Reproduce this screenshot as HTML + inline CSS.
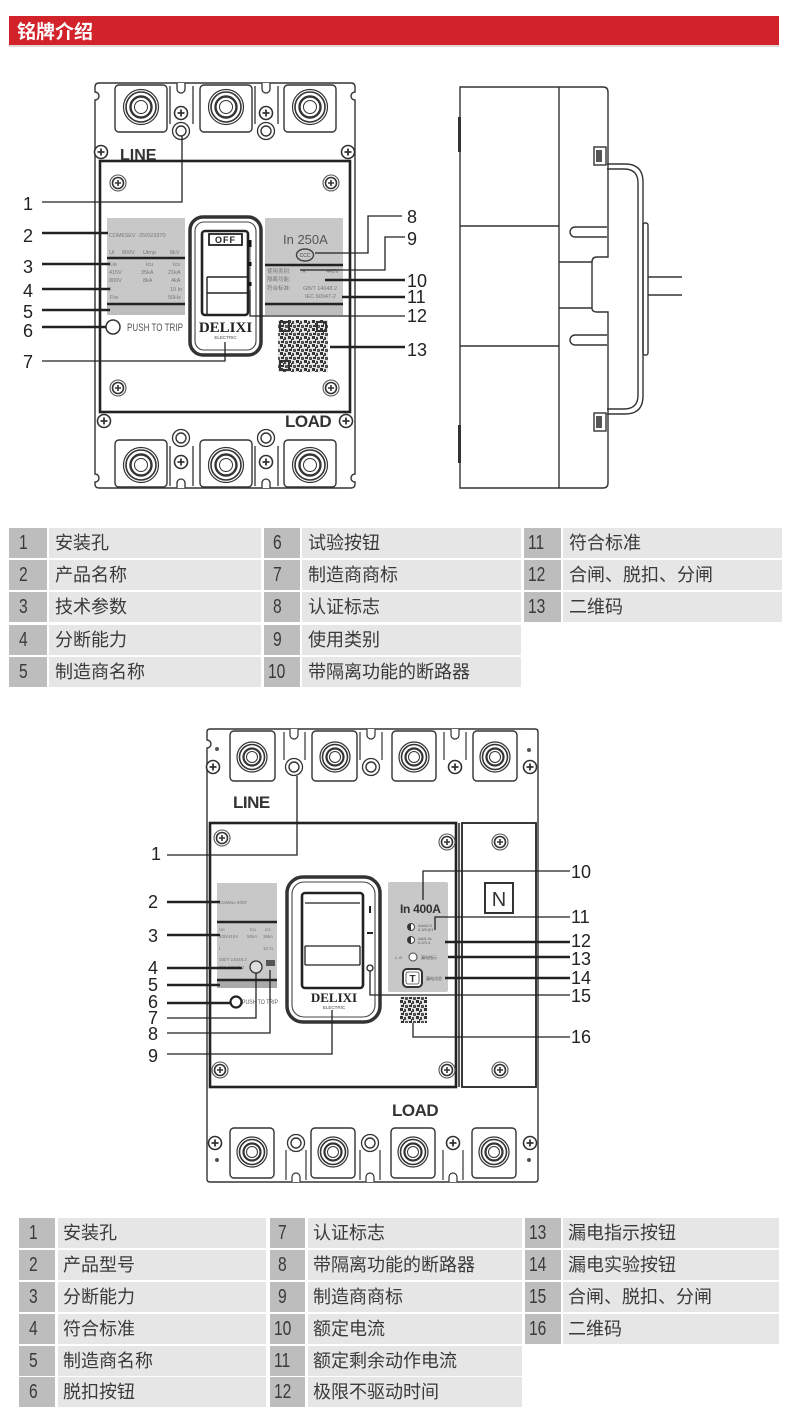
<!DOCTYPE html>
<html><head><meta charset="utf-8"><style>
body{margin:0;background:#fff;}
#w{position:relative;width:790px;height:1420px;overflow:hidden;background:#fff;font-family:"Liberation Sans","Noto Sans CJK SC",sans-serif;}
.c{position:absolute;height:30px;line-height:30px;color:#3a3a3a;white-space:nowrap;}
.n{background:#bdbdbd;font-size:20px;}
.n span{display:inline-block;transform:scaleX(.78);transform-origin:left center;}
.t{background:#e6e6e6;font-size:18px;font-family:"Liberation Sans","Noto Sans CJK SC",sans-serif;}
</style></head><body><div id="w">
<svg width="790" height="1420" viewBox="0 0 790 1420" style="position:absolute;left:0;top:0" font-family="Liberation Sans, Noto Sans CJK SC, sans-serif">
<defs>
<g id="sc"><circle r="6.5" fill="#fff" stroke="#333" stroke-width="1.6"/><path d="M-3.5 0H3.5M0-3.5V3.5" stroke="#333" stroke-width="1.8"/></g>
<g id="sc2"><circle r="8" fill="#fff" stroke="#555" stroke-width="1.1"/><circle r="5.5" fill="none" stroke="#333" stroke-width="1.6"/><path d="M-3 0H3M0-3V3" stroke="#333" stroke-width="1.6"/></g>
<g id="rg"><circle r="8.5" fill="#fff" stroke="#333" stroke-width="1.3"/><circle r="5" fill="none" stroke="#333" stroke-width="1.4"/></g>
<g id="tc"><circle r="17.5" fill="none" stroke="#333" stroke-width="1.2"/><circle r="15" fill="none" stroke="#333" stroke-width="1.6"/><circle r="10.5" fill="none" stroke="#333" stroke-width="2.4"/><circle r="6.5" fill="none" stroke="#333" stroke-width="1"/></g>
<g id="tc4"><circle r="15" fill="none" stroke="#333" stroke-width="1.2"/><circle r="12.5" fill="none" stroke="#333" stroke-width="1.6"/><circle r="8.5" fill="none" stroke="#333" stroke-width="2.2"/><circle r="5.5" fill="none" stroke="#333" stroke-width="1"/></g>
<pattern id="qr" width="8" height="8" patternUnits="userSpaceOnUse"><rect width="8" height="8" fill="#e4e4e4"/><rect x="0" y="0" width="3" height="3" fill="#333"/><rect x="4" y="1" width="2" height="3" fill="#444"/><rect x="1" y="5" width="3" height="2" fill="#333"/><rect x="5" y="5" width="3" height="3" fill="#555"/><rect x="3" y="3" width="1" height="2" fill="#333"/></pattern>
</defs>

<!-- header -->
<rect x="9" y="16" width="770" height="29" fill="#d2222a"/>
<rect x="9" y="45" width="770" height="2" fill="#e2d6d6"/>
<text x="17" y="38" font-size="19" font-weight="bold" fill="#fff">铭牌介绍</text>

<!-- ===== 3-pole front view ===== -->
<g fill="none" stroke="#333">
<path d="M99 83H351Q355 83 355 87V92A4 4 0 0 0 355 100V474A4 4 0 0 0 355 482V484Q355 488 351 488H99Q95 488 95 484V482A4 4 0 0 0 95 474V100A4 4 0 0 0 95 92V87Q95 83 99 83Z" fill="#fff" stroke-width="1.4"/>
<rect x="115" y="85" width="52" height="47" rx="4" stroke-width="1.4"/>
<rect x="200" y="85" width="52" height="47" rx="4" stroke-width="1.4"/>
<rect x="284" y="85" width="52" height="47" rx="4" stroke-width="1.4"/>
<path d="M170 86V124M193 86V124M255 86V124M278 86V124" stroke-width="1.3"/>
<path d="M177 83V89A4 4 0 0 0 185 89V83M262 83V89A4 4 0 0 0 270 89V83" stroke-width="1.3" fill="#fff"/>
<rect x="115" y="440" width="52" height="47" rx="4" stroke-width="1.4"/>
<rect x="200" y="440" width="52" height="47" rx="4" stroke-width="1.4"/>
<rect x="284" y="440" width="52" height="47" rx="4" stroke-width="1.4"/>
<path d="M170 446V486M193 446V486M255 446V486M278 446V486" stroke-width="1.3"/>
<path d="M177 488V483A4 4 0 0 1 185 483V488M262 488V483A4 4 0 0 1 270 483V488" stroke-width="1.3" fill="#fff"/>
<rect x="100" y="161" width="250" height="251" fill="#fff" stroke="#222" stroke-width="2.6"/>
</g>
<use href="#tc" x="141" y="107"/><use href="#tc" x="226" y="107"/><use href="#tc" x="310" y="107"/>
<use href="#tc" x="141" y="465"/><use href="#tc" x="226" y="465"/><use href="#tc" x="310" y="465"/>
<use href="#sc" x="181" y="113"/><use href="#sc" x="266" y="113"/>
<use href="#rg" x="181" y="131"/><use href="#rg" x="266" y="131"/>
<use href="#rg" x="181" y="438"/><use href="#rg" x="266" y="438"/>
<use href="#sc" x="181" y="462"/><use href="#sc" x="266" y="462"/>
<use href="#sc" x="101" y="152"/><use href="#sc" x="348" y="152"/>
<use href="#sc" x="104" y="421"/><use href="#sc" x="346" y="421"/>
<use href="#sc2" x="118" y="183"/><use href="#sc2" x="331" y="183"/>
<use href="#sc2" x="118" y="388"/><use href="#sc2" x="331" y="388"/>
<text x="120" y="160" font-size="16" font-weight="bold" fill="#333">LINE</text>
<text x="285" y="427" font-size="17" font-weight="bold" fill="#333" letter-spacing="-0.5">LOAD</text>

<!-- left label panel -->
<rect x="107" y="218" width="78" height="97" fill="#c8c8c8"/>
<g font-size="5.5" fill="#777">
<text x="109" y="237">CDM6SEV -250S/3370</text>
<text x="109" y="254">Ui</text><text x="122" y="254">800V</text><text x="143" y="254">Uimp</text><text x="170" y="254">8kV</text>
<text x="110" y="266">Ue</text><text x="146" y="266">Icu</text><text x="173" y="266">Ics</text>
<text x="109" y="274">415V</text><text x="141" y="274">35kA</text><text x="168" y="274">21kA</text>
<text x="109" y="282">800V</text><text x="143" y="282">8kA</text><text x="171" y="282">4kA</text>
<text x="110" y="291">I</text><text x="170" y="291">10 In</text>
<text x="110" y="299">Fre</text><text x="168" y="299">50Hz</text>
</g>
<rect x="107" y="305" width="78" height="10" fill="#bdbdbd"/>
<path d="M107 258H185M107 304H185" stroke="#222" stroke-width="2.4"/>
<circle cx="113" cy="327" r="7" fill="#fff" stroke="#333" stroke-width="1.5"/>
<text x="127" y="331" font-size="11" fill="#555" textLength="56" lengthAdjust="spacingAndGlyphs">PUSH TO TRIP</text>

<!-- right label panel -->
<rect x="265" y="218" width="78" height="97" fill="#c8c8c8"/>
<text x="283" y="244" font-size="13" fill="#555">In 250A</text>
<ellipse cx="305" cy="255" rx="8.5" ry="6" fill="none" stroke="#444" stroke-width="1.4"/>
<text x="305" y="257" font-size="5" fill="#444" text-anchor="middle">CCC</text>
<g font-size="5.5" fill="#777">
<text x="267" y="273">使用类别:</text><text x="302" y="273">A</text><text x="326" y="273">440V</text>
<text x="267" y="281">隔离功能:</text>
<text x="267" y="290">符合标准:</text><text x="303" y="290">GB/T 14048.2</text>
<text x="305" y="298">IEC 60947-2</text>
</g>
<rect x="265" y="305" width="78" height="10" fill="#bdbdbd"/>
<path d="M265 265H343M265 304H343" stroke="#222" stroke-width="2.4"/>
<rect x="278" y="320" width="50" height="52" fill="url(#qr)"/>
<g fill="none" stroke="#333" stroke-width="2"><rect x="280" y="322" width="9" height="9"/><rect x="317" y="322" width="9" height="9"/><rect x="280" y="361" width="9" height="9"/></g>

<!-- handle 3-pole -->
<rect x="190" y="217" width="71" height="138" rx="13" fill="#fff" stroke="#333" stroke-width="3.5"/>
<rect x="195" y="222" width="61" height="128" rx="9" fill="none" stroke="#444" stroke-width="1.1"/>
<rect x="202" y="231" width="46" height="84" rx="3" fill="#fff" stroke="#222" stroke-width="2.6"/>
<rect x="209" y="234" width="33" height="11" fill="#fff" stroke="#222" stroke-width="1.8"/>
<text x="225.5" y="243" font-size="9" font-weight="bold" fill="#222" text-anchor="middle" letter-spacing="1">OFF</text>
<path d="M207 277H247M207 293H247M207 277V315" stroke="#222" stroke-width="1.4" fill="none"/>
<path d="M250 240V247M250 262V266M250 282V286" stroke="#111" stroke-width="3"/>
<path d="M250 247V262M250 266V282M250 286V300" stroke="#555" stroke-width="1"/>
<text x="225.5" y="332" font-size="15" font-weight="bold" fill="#222" text-anchor="middle" font-family="Liberation Serif, serif">DELIXI</text>
<text x="225.5" y="339" font-size="4.5" fill="#444" text-anchor="middle">ELECTRIC</text>

<!-- leaders 3-pole -->
<g fill="none" stroke="#222">
<path d="M42 202H182V136" stroke-width="1.3"/>
<path d="M42 233H108M42 264H110M42 289H110M42 310H110M42 327H106" stroke-width="2.6"/>
<path d="M42 361H225V342" stroke-width="1.3"/>
<path d="M402 216H368V253H315" stroke-width="1.3"/>
<path d="M405 237H385V270H300" stroke-width="1.3"/>
<path d="M325 280H405M342 297H405M330 347H405" stroke-width="2.6"/>
<path d="M405 316H250V290" stroke-width="1.3"/>
</g>
<g font-size="18" fill="#222">
<text x="23" y="210">1</text><text x="23" y="242">2</text><text x="23" y="273">3</text><text x="23" y="297">4</text><text x="23" y="318">5</text><text x="23" y="337">6</text><text x="23" y="368">7</text>
<text x="407" y="223">8</text><text x="407" y="245">9</text><text x="407" y="287">10</text><text x="407" y="303">11</text><text x="407" y="322">12</text><text x="407" y="356">13</text>
</g>

<!-- ===== side view ===== -->
<g fill="none" stroke="#333" stroke-width="1.4">
<path d="M460 87H603Q608 87 608 92V257H597Q592 257 592 262V308Q592 312 597 312H608V483Q608 488 603 488H460Z" fill="#fff"/>
<path d="M559 87V488M460 226H559M460 346H559M559 262H592M559 308H592"/>
<path d="M607 227H575A5 5 0 0 0 575 237H607M607 335H575A5 5 0 0 0 575 345H607"/>
<path d="M607 164H625Q643 164 643 182V396Q643 414 625 414H607"/>
<path d="M607 169H624Q638 169 638 183V395Q638 409 624 409H607"/>
<rect x="643" y="223" width="5" height="132" rx="2"/>
<path d="M648 277H682M648 295H682"/>
<rect x="594" y="147" width="12" height="18"/>
<rect x="594" y="413" width="12" height="18"/>
</g>
<rect x="596" y="150" width="6" height="12" fill="#555"/>
<rect x="596" y="416" width="6" height="12" fill="#555"/>
<rect x="458" y="117" width="3" height="35" fill="#333"/>
<rect x="458" y="425" width="3" height="38" fill="#333"/>

<!-- ===== 4-pole front view ===== -->
<g fill="none" stroke="#333">
<path d="M210 729H535Q538 729 538 732V1179Q538 1182 535 1182H210Q207 1182 207 1179V748A4 4 0 0 0 207 740V732Q207 729 210 729Z" fill="#fff" stroke-width="1.4"/>
<rect x="230" y="731" width="45" height="50" rx="4" stroke-width="1.4"/>
<rect x="312" y="731" width="45" height="50" rx="4" stroke-width="1.4"/>
<rect x="392" y="731" width="44" height="50" rx="4" stroke-width="1.4"/>
<rect x="473" y="731" width="44" height="50" rx="4" stroke-width="1.4"/>
<path d="M284 732V760M305 732V760M360 732V760M382 732V760M444 732V760M466 732V760" stroke-width="1.2"/>
<path d="M290 729V735A4 4 0 0 0 298 735V729M367 729V735A4 4 0 0 0 375 735V729M451 729V735A4 4 0 0 0 459 735V729" stroke-width="1.2" fill="#fff"/>
<rect x="230" y="1128" width="44" height="50" rx="4" stroke-width="1.4"/>
<rect x="311" y="1128" width="44" height="50" rx="4" stroke-width="1.4"/>
<rect x="391" y="1128" width="44" height="50" rx="4" stroke-width="1.4"/>
<rect x="472" y="1128" width="44" height="50" rx="4" stroke-width="1.4"/>
<path d="M286 1150V1180M306 1150V1180M360 1150V1180M380 1150V1180M443 1150V1180M463 1150V1180" stroke-width="1.2"/>
<path d="M292 1182V1177A4 4 0 0 1 300 1177V1182M366 1182V1177A4 4 0 0 1 374 1177V1182M449 1182V1177A4 4 0 0 1 457 1177V1182" stroke-width="1.2" fill="#fff"/>
<rect x="210" y="823" width="246" height="264" fill="#fff" stroke="#222" stroke-width="2.6"/>
<rect x="462" y="823" width="74" height="264" fill="#fff" stroke="#222" stroke-width="1.8"/>
<path d="M459 823V1087" stroke="#222" stroke-width="1.5"/>
</g>
<use href="#tc4" x="252" y="757"/><use href="#tc4" x="335" y="757"/><use href="#tc4" x="414" y="757"/><use href="#tc4" x="495" y="757"/>
<use href="#tc4" x="252" y="1152"/><use href="#tc4" x="333" y="1152"/><use href="#tc4" x="413" y="1152"/><use href="#tc4" x="494" y="1152"/>
<use href="#rg" x="294" y="767"/><use href="#rg" x="371" y="767"/><use href="#sc" x="455" y="767"/>
<use href="#rg" x="296" y="1143"/><use href="#rg" x="370" y="1143"/><use href="#sc" x="453" y="1143"/>
<use href="#sc" x="213" y="767"/><use href="#sc" x="530" y="767"/>
<use href="#sc" x="215" y="1143"/><use href="#sc" x="530" y="1143"/>
<circle cx="217" cy="749" r="2" fill="#555"/><circle cx="529" cy="750" r="2" fill="#555"/>
<circle cx="217" cy="1160" r="2" fill="#555"/><circle cx="529" cy="1160" r="2" fill="#555"/>
<use href="#sc2" x="222" y="838"/><use href="#sc2" x="447" y="842"/><use href="#sc2" x="500" y="842"/>
<use href="#sc2" x="220" y="1070"/><use href="#sc2" x="447" y="1070"/><use href="#sc2" x="500" y="1070"/>
<text x="233" y="808" font-size="17" font-weight="bold" fill="#333" letter-spacing="-0.5">LINE</text>
<text x="392" y="1116" font-size="17" font-weight="bold" fill="#333" letter-spacing="-0.5">LOAD</text>

<!-- N box -->
<rect x="485" y="883" width="28" height="30" fill="#fff" stroke="#333" stroke-width="2"/>
<text x="499" y="906" font-size="20" fill="#333" text-anchor="middle">N</text>

<!-- left panel 4p -->
<rect x="217" y="883" width="60" height="105" fill="#c8c8c8"/>
<g font-size="4.5" fill="#777">
<text x="219" y="904">CDM6LI-400F</text>
<text x="219" y="931">Ue</text><text x="250" y="931">Icu</text><text x="265" y="931">Ics</text>
<text x="219" y="938">400/415V</text><text x="247" y="938">50kA</text><text x="263" y="938">35kA</text>
<text x="219" y="950">I</text><text x="263" y="950">10 In</text>
<text x="219" y="961">GB/T 14048.2</text>
<text x="219" y="969">IEC 60947-2</text>
</g>
<rect x="217" y="981" width="60" height="7" fill="#aaa"/>
<path d="M217 922H277M217 980H277" stroke="#222" stroke-width="2.4"/>
<circle cx="256" cy="967" r="6" fill="#ddd" stroke="#333" stroke-width="1.3"/>
<rect x="266" y="960" width="9" height="6" fill="#555"/>
<circle cx="236" cy="1002" r="5.5" fill="#fff" stroke="#222" stroke-width="2.2"/>
<text x="242" y="1004" font-size="6" fill="#555" textLength="36" lengthAdjust="spacingAndGlyphs">PUSH TO TRIP</text>

<!-- handle 4p -->
<rect x="287" y="877" width="93" height="145" rx="16" fill="#fff" stroke="#333" stroke-width="3.5"/>
<rect x="292" y="882" width="83" height="135" rx="12" fill="none" stroke="#444" stroke-width="1.1"/>
<rect x="302" y="893" width="61" height="95" rx="3" fill="#fff" stroke="#222" stroke-width="2.6"/>
<path d="M305 903H360M305 946H360M305 965H360M305 946V965M360 946V965" stroke="#222" stroke-width="1.3" fill="none"/>
<text x="334" y="1002" font-size="13" font-weight="bold" fill="#222" text-anchor="middle" font-family="Liberation Serif, serif">DELIXI</text>
<text x="334" y="1009" font-size="4.5" fill="#444" text-anchor="middle">ELECTRIC</text>
<path d="M370 906V913M367 933H373" stroke="#222" stroke-width="2"/>
<circle cx="370" cy="968" r="3" fill="#fff" stroke="#222" stroke-width="1.3"/>

<!-- right panel 4p -->
<rect x="388" y="882" width="60" height="110" rx="2" fill="#c8c8c8"/>
<text x="400" y="913" font-size="12" font-weight="bold" fill="#333" letter-spacing="-0.3">In 400A</text>
<circle cx="411" cy="927" r="3.5" fill="#fff" stroke="#444" stroke-width="1"/><path d="M411 923.5A3.5 3.5 0 0 0 411 930.5Z" fill="#333"/>
<circle cx="411" cy="940" r="3.5" fill="#fff" stroke="#444" stroke-width="1"/><path d="M411 936.5A3.5 3.5 0 0 0 411 943.5Z" fill="#333"/>
<g font-size="4" fill="#555">
<text x="418" y="927">ΔIn≤0.3</text><text x="418" y="931">0.3/0.5/1</text>
<text x="418" y="940">Δt≤0.2s</text><text x="418" y="944">0.2/0.4</text>
<text x="394" y="959">⊥ G</text><text x="421" y="959">漏电指示</text>
<text x="426" y="980">漏电试验</text>
</g>
<circle cx="413" cy="957" r="4" fill="#fff" stroke="#444" stroke-width="1"/>
<rect x="403" y="969" width="19" height="18" rx="4" fill="#fff" stroke="#333" stroke-width="2"/>
<rect x="406" y="972" width="13" height="12" rx="2" fill="none" stroke="#444" stroke-width="0.8"/>
<text x="412.5" y="982" font-size="10" font-weight="bold" fill="#333" text-anchor="middle">T</text>
<rect x="400" y="997" width="27" height="26" fill="url(#qr)"/>

<!-- leaders 4-pole -->
<g fill="none" stroke="#222">
<path d="M167 855H297V776" stroke-width="1.3"/>
<path d="M167 902H220M167 935H220M167 968H242M167 985H220M167 1003H231" stroke-width="2.6"/>
<path d="M167 1018H256V973M167 1033H270V970M167 1054H332V1010" stroke-width="1.3"/>
<path d="M570 871H423V900M570 917H435V930" stroke-width="1.3"/>
<path d="M445 942H570M448 957H570M445 978H570" stroke-width="2.6"/>
<path d="M370 971V995H570M413 1023V1037H570" stroke-width="1.3"/>
</g>
<g font-size="18" fill="#222">
<text x="151" y="860">1</text><text x="148" y="908">2</text><text x="148" y="942">3</text><text x="148" y="974">4</text><text x="148" y="991">5</text><text x="148" y="1008">6</text><text x="148" y="1024">7</text><text x="148" y="1040">8</text><text x="148" y="1062">9</text>
<text x="571" y="878">10</text><text x="571" y="923">11</text><text x="571" y="947">12</text><text x="571" y="965">13</text><text x="571" y="984">14</text><text x="571" y="1002">15</text><text x="571" y="1043">16</text>
</g>
</svg>

<!-- table 1 -->
<div class="c n" style="left:9px;top:528px;width:38px;"><span style="margin-left:10px">1</span></div><div class="c t" style="left:49px;top:528px;width:212px;"><span style="margin-left:6px">安装孔</span></div>
<div class="c n" style="left:9px;top:560px;width:38px;"><span style="margin-left:10px">2</span></div><div class="c t" style="left:49px;top:560px;width:212px;"><span style="margin-left:6px">产品名称</span></div>
<div class="c n" style="left:9px;top:592px;width:38px;"><span style="margin-left:10px">3</span></div><div class="c t" style="left:49px;top:592px;width:212px;"><span style="margin-left:6px">技术参数</span></div>
<div class="c n" style="left:9px;top:625px;width:38px;"><span style="margin-left:10px">4</span></div><div class="c t" style="left:49px;top:625px;width:212px;"><span style="margin-left:6px">分断能力</span></div>
<div class="c n" style="left:9px;top:657px;width:38px;"><span style="margin-left:10px">5</span></div><div class="c t" style="left:49px;top:657px;width:212px;"><span style="margin-left:6px">制造商名称</span></div>

<div class="c n" style="left:264px;top:528px;width:36px;"><span style="margin-left:9px">6</span></div><div class="c t" style="left:302px;top:528px;width:219px;"><span style="margin-left:6px">试验按钮</span></div>
<div class="c n" style="left:264px;top:560px;width:36px;"><span style="margin-left:9px">7</span></div><div class="c t" style="left:302px;top:560px;width:219px;"><span style="margin-left:6px">制造商商标</span></div>
<div class="c n" style="left:264px;top:592px;width:36px;"><span style="margin-left:9px">8</span></div><div class="c t" style="left:302px;top:592px;width:219px;"><span style="margin-left:6px">认证标志</span></div>
<div class="c n" style="left:264px;top:625px;width:36px;"><span style="margin-left:9px">9</span></div><div class="c t" style="left:302px;top:625px;width:219px;"><span style="margin-left:6px">使用类别</span></div>
<div class="c n" style="left:264px;top:657px;width:36px;"><span style="margin-left:4px">10</span></div><div class="c t" style="left:302px;top:657px;width:219px;"><span style="margin-left:6px">带隔离功能的断路器</span></div>

<div class="c n" style="left:524px;top:528px;width:37px;"><span style="margin-left:4px">11</span></div><div class="c t" style="left:563px;top:528px;width:219px;"><span style="margin-left:6px">符合标准</span></div>
<div class="c n" style="left:524px;top:560px;width:37px;"><span style="margin-left:4px">12</span></div><div class="c t" style="left:563px;top:560px;width:219px;"><span style="margin-left:6px">合闸、脱扣、分闸</span></div>
<div class="c n" style="left:524px;top:592px;width:37px;"><span style="margin-left:4px">13</span></div><div class="c t" style="left:563px;top:592px;width:219px;"><span style="margin-left:6px">二维码</span></div>

<!-- table 2 -->
<div class="c n" style="left:19px;top:1218px;width:36px;"><span style="margin-left:10px">1</span></div><div class="c t" style="left:58px;top:1218px;width:208px;"><span style="margin-left:5px">安装孔</span></div>
<div class="c n" style="left:19px;top:1250px;width:36px;"><span style="margin-left:10px">2</span></div><div class="c t" style="left:58px;top:1250px;width:208px;"><span style="margin-left:5px">产品型号</span></div>
<div class="c n" style="left:19px;top:1282px;width:36px;"><span style="margin-left:10px">3</span></div><div class="c t" style="left:58px;top:1282px;width:208px;"><span style="margin-left:5px">分断能力</span></div>
<div class="c n" style="left:19px;top:1314px;width:36px;"><span style="margin-left:10px">4</span></div><div class="c t" style="left:58px;top:1314px;width:208px;"><span style="margin-left:5px">符合标准</span></div>
<div class="c n" style="left:19px;top:1346px;width:36px;"><span style="margin-left:10px">5</span></div><div class="c t" style="left:58px;top:1346px;width:208px;"><span style="margin-left:5px">制造商名称</span></div>
<div class="c n" style="left:19px;top:1377px;width:36px;"><span style="margin-left:10px">6</span></div><div class="c t" style="left:58px;top:1377px;width:208px;"><span style="margin-left:5px">脱扣按钮</span></div>

<div class="c n" style="left:270px;top:1218px;width:35px;"><span style="margin-left:8px">7</span></div><div class="c t" style="left:308px;top:1218px;width:214px;"><span style="margin-left:5px">认证标志</span></div>
<div class="c n" style="left:270px;top:1250px;width:35px;"><span style="margin-left:8px">8</span></div><div class="c t" style="left:308px;top:1250px;width:214px;"><span style="margin-left:5px">带隔离功能的断路器</span></div>
<div class="c n" style="left:270px;top:1282px;width:35px;"><span style="margin-left:8px">9</span></div><div class="c t" style="left:308px;top:1282px;width:214px;"><span style="margin-left:5px">制造商商标</span></div>
<div class="c n" style="left:270px;top:1314px;width:35px;"><span style="margin-left:4px">10</span></div><div class="c t" style="left:308px;top:1314px;width:214px;"><span style="margin-left:5px">额定电流</span></div>
<div class="c n" style="left:270px;top:1346px;width:35px;"><span style="margin-left:4px">11</span></div><div class="c t" style="left:308px;top:1346px;width:214px;"><span style="margin-left:5px">额定剩余动作电流</span></div>
<div class="c n" style="left:270px;top:1377px;width:35px;"><span style="margin-left:4px">12</span></div><div class="c t" style="left:308px;top:1377px;width:214px;"><span style="margin-left:5px">极限不驱动时间</span></div>

<div class="c n" style="left:525px;top:1218px;width:36px;"><span style="margin-left:4px">13</span></div><div class="c t" style="left:563px;top:1218px;width:216px;"><span style="margin-left:5px">漏电指示按钮</span></div>
<div class="c n" style="left:525px;top:1250px;width:36px;"><span style="margin-left:4px">14</span></div><div class="c t" style="left:563px;top:1250px;width:216px;"><span style="margin-left:5px">漏电实验按钮</span></div>
<div class="c n" style="left:525px;top:1282px;width:36px;"><span style="margin-left:4px">15</span></div><div class="c t" style="left:563px;top:1282px;width:216px;"><span style="margin-left:5px">合闸、脱扣、分闸</span></div>
<div class="c n" style="left:525px;top:1314px;width:36px;"><span style="margin-left:4px">16</span></div><div class="c t" style="left:563px;top:1314px;width:216px;"><span style="margin-left:5px">二维码</span></div>
</div></body></html>
